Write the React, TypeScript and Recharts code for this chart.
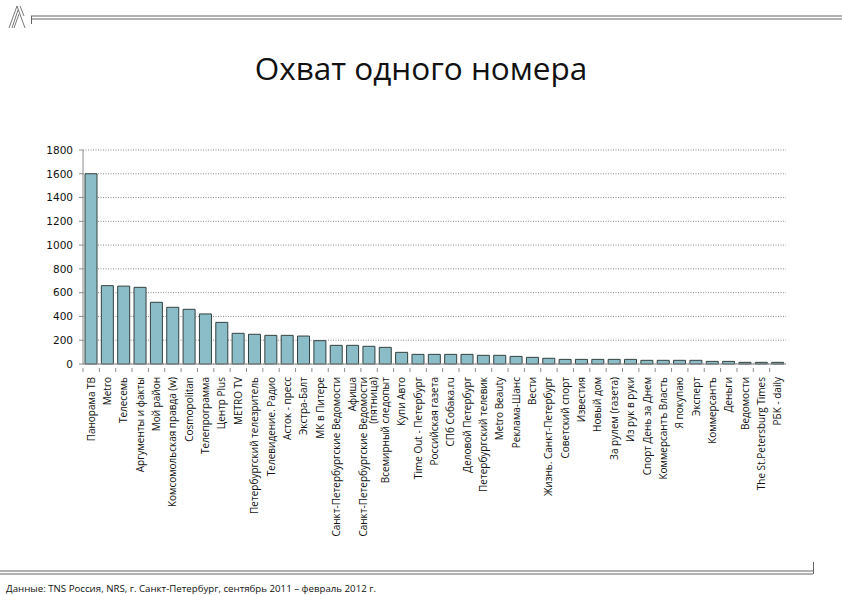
import React from 'react';
import { BarChart, Bar, XAxis, YAxis, CartesianGrid } from 'recharts';

// Издания (подписи оси X), "\n" — перенос строки в подписи
const titles = [
  'Панорама ТВ', 'Metro', 'Телесемь', 'Аргументы и факты', 'Мой район',
  'Комсомольская правда (w)', 'Cosmopolitan', 'Телепрограмма', 'Центр Plus', 'METRO TV',
  'Петербургский телезритель', 'Телевидение. Радио', 'Асток - пресс', 'Экстра-Балт', 'МК в Питере',
  'Санкт-Петербургские Ведомости', 'Афиша', 'Санкт-Петербургские Ведомости\n(пятница)', 'Всемирный следопыт', 'Купи Авто',
  'Time Out - Петербург', 'Российская газета', 'СПб Собака.ru', 'Деловой Петербург', 'Петербургский телевик',
  'Metro Beauty', 'Реклама-Шанс', 'Вести', 'Жизнь. Санкт-Петербург', 'Советский спорт',
  'Известия', 'Новый дом', 'За рулем (газета)', 'Из рук в руки', 'Спорт День за Днем',
  'Коммерсантъ Власть', 'Я покупаю', 'Эксперт', 'Коммерсантъ', 'Деньги',
  'Ведомости', 'The St.Petersburg Times', 'РБК - daily',
];

// Охват одного номера, тыс. чел.
const reach = [
  1600, 659, 655, 645, 519,
  477, 460, 421, 350, 258,
  250, 241, 241, 235, 196,
  157, 157, 149, 140, 98,
  81, 81, 81, 81, 73,
  73, 64, 56, 48, 39,
  39, 39, 39, 39, 31,
  31, 31, 31, 22, 22,
  14, 14, 14,
];

const yTicks = [0, 200, 400, 600, 800, 1000, 1200, 1400, 1600, 1800];

const data = titles.map((name, i) => ({ name, value: reach[i] }));

const PLOT_LEFT = 83;
const PLOT_RIGHT = 786;
const STEP = (PLOT_RIGHT - PLOT_LEFT) / titles.length;

const LabelTick = (props: any) => {
  const { x, y, payload } = props;
  const lines = String(payload.value).split('\n');
  const first = lines.length > 1 ? '-0.2em' : '0.35em';
  return (
    <g>
      <line x1={x - STEP / 2} y1={y - 4} x2={x - STEP / 2} y2={y} stroke="#8c8c8c" />
      <text
        transform={`translate(${x},${y + 5}) rotate(-90)`}
        textAnchor="end"
        fontSize={10}
        fontFamily="'Open Sans', sans-serif"
        fill="#111"
      >
        {lines.map((l, i) => (
          <tspan key={i} x={0} dy={i === 0 ? first : '0.95em'}>
            {l}
          </tspan>
        ))}
      </text>
    </g>
  );
};

export default function App() {
  return (
    <div style={{ position: 'absolute', left: 0, top: 0, width: 842, height: 595, background: '#fff' }}>
      <svg width={842} height={595} style={{ position: 'absolute', left: 0, top: 0 }}>
        {/* логотип */}
        <g stroke="#555" strokeWidth={0.8} fill="none">
          <path d="M9 28 L17 6 L25 28" />
          <path d="M12 28 L18 10" />
          <path d="M14 28 L19 14" />
          <path d="M20 6 L24 16" />
        </g>
        <line x1={31} y1={16} x2={842} y2={16} stroke="#666" strokeWidth={1} />
        <line x1={31} y1={19} x2={842} y2={19} stroke="#666" strokeWidth={1} />
        <line x1={31.5} y1={16} x2={31.5} y2={24} stroke="#666" strokeWidth={1} />
        <line x1={0} y1={571} x2={813} y2={571} stroke="#666" strokeWidth={1} />
        <line x1={0} y1={574} x2={813} y2={574} stroke="#666" strokeWidth={1} />
        <line x1={813.5} y1={562} x2={813.5} y2={574} stroke="#666" strokeWidth={1} />
        <text x={421} y={80} textAnchor="middle" fontSize={31.5} fontFamily="'Open Sans', sans-serif" fill="#111">
          Охват одного номера
        </text>
        <text x={6} y={592} fontSize={9.7} fontFamily="'Open Sans', sans-serif" fill="#111">
          Данные: TNS Россия, NRS, г. Санкт-Петербург, сентябрь 2011 – февраль 2012 г.
        </text>
      </svg>
      <div style={{ position: 'absolute', left: 0, top: 0 }}>
        <BarChart
          width={842}
          height={595}
          data={data}
          barCategoryGap={2}
          margin={{ top: 150, right: 842 - PLOT_RIGHT, bottom: 80, left: PLOT_LEFT - 45 }}
        >
          <CartesianGrid vertical={false} stroke="#8a8a8a" strokeDasharray="1 1.5" />
          <XAxis
            dataKey="name"
            interval={0}
            height={151}
            axisLine={{ stroke: '#8c8c8c' }}
            tickLine={false}
            tick={<LabelTick />}
          />
          <YAxis
            width={45}
            domain={[0, 1800]}
            ticks={yTicks}
            interval={0}
            axisLine={{ stroke: '#8c8c8c' }}
            tickLine={{ stroke: '#8c8c8c' }}
            tickSize={4}
            tickMargin={6}
            tick={{ fontSize: 10.5, fill: '#111', fontFamily: "'DejaVu Sans', sans-serif" }}
          />
          <Bar dataKey="value" fill="#8bbdc8" stroke="#34403f" strokeWidth={1} isAnimationActive={false} />
        </BarChart>
      </div>
    </div>
  );
}
